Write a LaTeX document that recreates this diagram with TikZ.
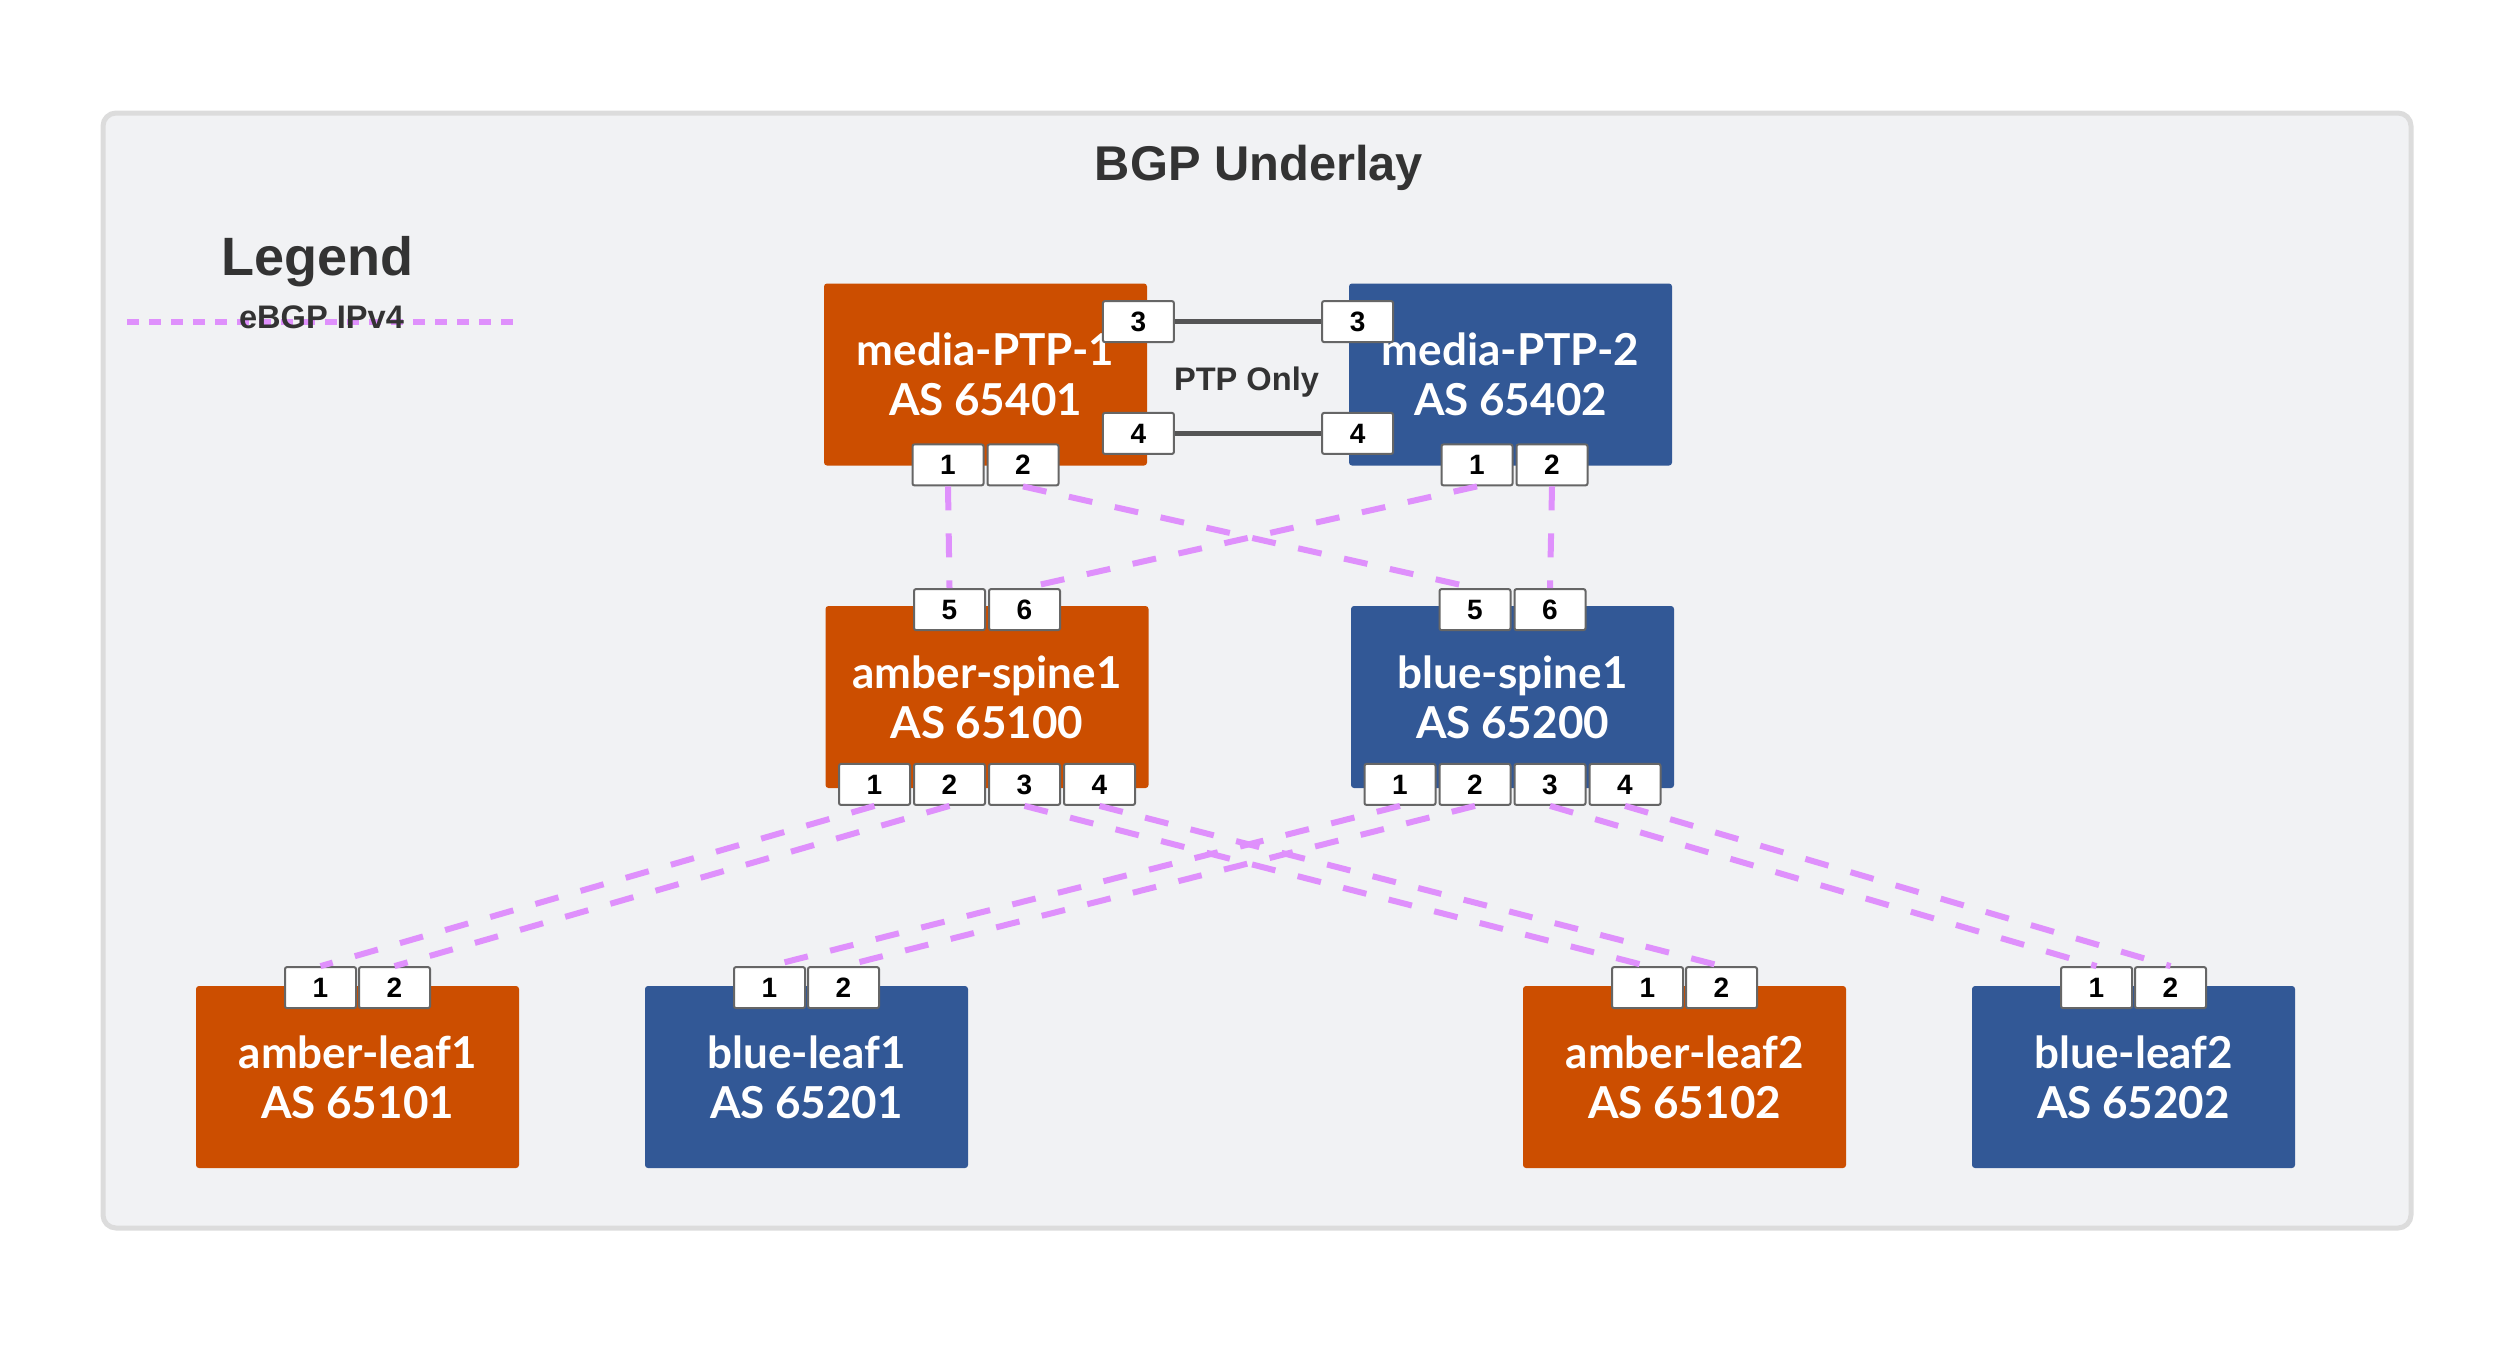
\documentclass[tikz,border=0pt]{standalone}
\usepackage{fontspec}
\setmainfont{Liberation Sans}
\newfontfamily\latofont{Lato}
\usepackage{tikz}
\usetikzlibrary{arrows.meta,positioning,calc}

\definecolor{amber}{HTML}{CC4E00}
\definecolor{bluesw}{HTML}{325896}
\definecolor{bgpline}{HTML}{DF90FC}
\definecolor{panel}{HTML}{F1F2F4}
\definecolor{panelline}{HTML}{DCDCDC}
\definecolor{txtgray}{HTML}{333333}
\definecolor{linkgray}{HTML}{555555}
\definecolor{portline}{HTML}{666666}

\tikzset{
    switch/.style={rectangle, rounded corners=1.5pt, minimum width=161.5pt, minimum height=91pt,
        inner sep=0pt, align=center, text=white, font=\latofont\bfseries\fontsize{22}{25}\selectfont},
    amberbox/.style={switch, fill=amber},
    bluebox/.style={switch, fill=bluesw},
    port/.style={rectangle, draw=portline, fill=white, line width=1pt, rounded corners=1pt,
        minimum width=35.5pt, minimum height=20.5pt, inner sep=0pt, font=\bfseries\fontsize{14}{14}\selectfont},
    ebgp/.style={draw=bgpline, line width=3pt, dash pattern=on 12pt off 11.5pt},
    ptplink/.style={draw=linkgray, line width=2.5pt},
    heading/.style={anchor=base, text=txtgray, font=\bfseries\fontsize{#1}{#1}\selectfont}
}

\begin{document}
\begin{tikzpicture}[x=0.5pt, y=-0.5pt]
    \useasboundingbox (0,0) rectangle (2514,1350);

    % Panel
    \draw[panelline, fill=panel, line width=2.5pt, rounded corners=6.5pt] (103,113) rectangle (2411,1228);
    \node[heading=24.4] (title) at (1259,180) {BGP Underlay};

    % Legend
    \coordinate (lgA) at (127,322);
    \coordinate (lgB) at (518,322);
    \draw[draw=bgpline, line width=3pt, dash pattern=on 6pt off 5pt] (lgA) -- (lgB);
    \node[heading=27] (legend) at (317.5,275) {Legend};
    \node[heading=16.3] (lgtext) at (321.5,328) {eBGP IPv4};

    % Switches
    \node[amberbox] (ptpA) at (985.5,374.5) {media-PTP-1\\AS 65401};
    \node[bluebox]  (ptpB) at (1510.5,374.5) {media-PTP-2\\AS 65402};
    \node[amberbox] (spineA) at (987,697) {amber-spine1\\AS 65100};
    \node[bluebox]  (spineB) at (1512.5,697) {blue-spine1\\AS 65200};
    \node[amberbox] (leafA1) at (357.5,1077) {amber-leaf1\\AS 65101};
    \node[bluebox]  (leafB1) at (806.5,1077) {blue-leaf1\\AS 65201};
    \node[amberbox] (leafA2) at (1684.5,1077) {amber-leaf2\\AS 65102};
    \node[bluebox]  (leafB2) at (2133.5,1077) {blue-leaf2\\AS 65202};

    \node[heading=16.3] (ptponly) at (1246.5,390) {PTP Only};

    % Ports
    \foreach \s/\o in {A/0,B/4}{
        \node[port] (p\s1) at ($(ptp\s.south)+(-37.5+\o,-1)$) {1};
        \node[port] (p\s2) at ($(ptp\s.south)+(37.5+\o,-1)$) {2};
        \node[port] (s\s5) at ($(spine\s.north)+(-37.5,4)$) {5};
        \node[port] (s\s6) at ($(spine\s.north)+(37.5,4)$) {6};
        \foreach \p/\dx in {1/-112.5, 2/-37.5, 3/37.5, 4/112.5}
            \node[port] (s\s\p) at ($(spine\s.south)+(\dx,-4)$) {\p};
        \foreach \n in {1,2}{
            \node[port] (l\s\n1) at ($(leaf\s\n.north)+(-37,2)$) {1};
            \node[port] (l\s\n2) at ($(leaf\s\n.north)+(37,2)$) {2};
        }
    }
    \node[port] (pA3) at ($(ptpA.north east)+(-9,38.5)$) {3};
    \node[port] (pA4) at ($(ptpA.south east)+(-9,-32.5)$) {4};
    \node[port] (pB3) at ($(ptpB.north west)+(9,38.5)$) {3};
    \node[port] (pB4) at ($(ptpB.south west)+(9,-32.5)$) {4};

    % PTP links
    \draw[ptplink] (pA3.east) -- (pB3.west);
    \draw[ptplink] (pA4.east) -- (pB4.west);

    % eBGP sessions
    \draw[ebgp] (pA1.south) -- (sA5.north);
    \draw[ebgp] (pA2.south) -- (sB5.north);
    \draw[ebgp] (pB1.south) -- (sA6.north);
    \draw[ebgp] (pB2.south) -- (sB6.north);
    \foreach \s in {A,B}{
        \draw[ebgp] (s\s1.south) -- (l\s11.north);
        \draw[ebgp] (s\s2.south) -- (l\s12.north);
        \draw[ebgp] (s\s3.south) -- (l\s21.north);
        \draw[ebgp] (s\s4.south) -- (l\s22.north);
    }
\end{tikzpicture}
\end{document}
